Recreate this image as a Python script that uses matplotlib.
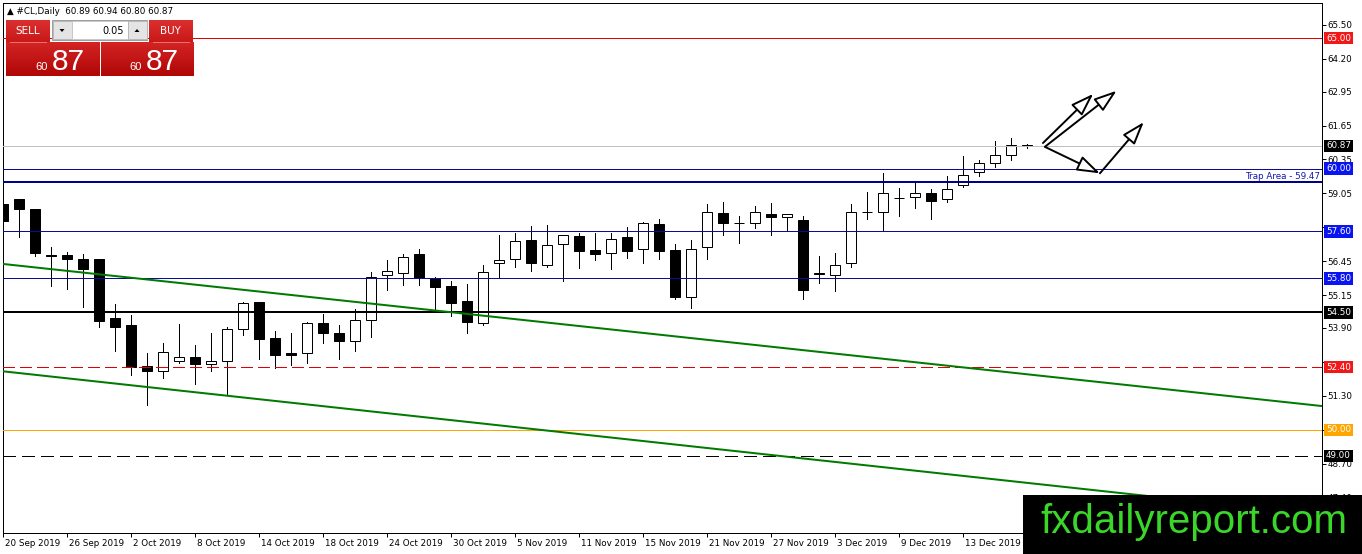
import matplotlib
matplotlib.use("Agg")
import matplotlib.pyplot as plt
import numpy as np
from matplotlib.patches import Rectangle, Polygon
from matplotlib.transforms import ScaledTranslation, blended_transform_factory
from matplotlib.colors import to_rgb

plt.rcParams['lines.scale_dashes'] = False
plt.rcParams['font.family'] = ['DejaVu Sans']

# ---------------- data ----------------
dates = ["20 Sep", "23 Sep", "24 Sep", "25 Sep", "26 Sep", "27 Sep", "30 Sep",
         "1 Oct", "2 Oct", "3 Oct", "4 Oct", "7 Oct", "8 Oct", "9 Oct", "10 Oct", "11 Oct",
         "14 Oct", "15 Oct", "16 Oct", "17 Oct", "18 Oct", "21 Oct", "22 Oct", "23 Oct",
         "24 Oct", "25 Oct", "28 Oct", "29 Oct", "30 Oct", "31 Oct",
         "1 Nov", "4 Nov", "5 Nov", "6 Nov", "7 Nov", "8 Nov", "11 Nov", "12 Nov", "13 Nov",
         "14 Nov", "15 Nov", "18 Nov", "19 Nov", "20 Nov", "21 Nov", "22 Nov", "25 Nov",
         "26 Nov", "27 Nov", "28 Nov", "29 Nov",
         "2 Dec", "3 Dec", "4 Dec", "5 Dec", "6 Dec", "9 Dec", "10 Dec", "11 Dec", "12 Dec",
         "13 Dec", "16 Dec", "17 Dec", "18 Dec", "19 Dec"]

opens = [58.65, 58.83, 58.44, 56.70, 56.68, 56.53, 56.53,
         54.28, 54.00, 52.44, 52.27, 52.65, 52.80, 52.52, 52.65, 53.85,
         54.89, 53.52, 52.95, 52.95, 54.08, 53.70, 53.39, 54.21,
         55.92, 56.02, 56.73, 55.81, 55.51, 54.94,
         54.10, 56.40, 56.53, 57.27, 56.32, 57.11, 57.42, 56.88, 56.76,
         57.37, 56.91, 57.88, 56.88, 55.10, 56.99, 58.29, 57.90,
         57.91, 58.26, 58.14, 58.03,
         55.97, 55.94, 56.40, 58.32, 58.34, 58.89, 58.90, 59.06, 58.85,
         59.36, 59.87, 60.23, 60.53, 60.89]
highs = [59.18, 58.85, 58.46, 57.01, 56.81, 56.73, 56.55,
         54.82, 54.41, 52.93, 53.31, 54.05, 53.26, 53.72, 53.95, 54.89,
         54.90, 53.80, 53.70, 54.13, 54.44, 54.00, 54.61, 56.04,
         56.50, 56.73, 56.91, 55.86, 55.69, 55.58,
         56.32, 57.45, 57.52, 57.80, 57.85, 57.46, 57.55, 57.52, 57.55,
         57.75, 57.96, 58.06, 57.11, 57.27, 58.65, 58.72, 58.20,
         58.57, 58.70, 58.27, 58.19,
         56.66, 56.76, 58.65, 59.11, 59.84, 59.26, 59.46, 59.23, 59.72,
         60.48, 60.33, 61.05, 61.17, 60.94]
lows = [57.77, 57.37, 56.65, 55.51, 55.40, 54.72, 53.95,
        53.03, 52.11, 50.96, 51.99, 52.55, 51.76, 52.27, 51.32, 53.62,
        52.72, 52.37, 52.50, 52.57, 53.31, 52.70, 53.03, 53.57,
        55.35, 55.56, 55.56, 54.61, 54.36, 53.70,
        54.03, 55.81, 56.25, 56.09, 56.25, 55.71, 56.20, 56.50, 56.17,
        56.58, 56.40, 56.53, 55.02, 54.67, 56.55, 57.47, 57.16,
        57.73, 57.47, 57.62, 55.00,
        55.61, 55.33, 56.25, 58.08, 57.65, 58.19, 58.49, 58.08, 58.72,
        59.29, 59.72, 60.05, 60.33, 60.80]
closes = [57.99, 58.47, 56.76, 56.65, 56.53, 56.15, 54.18,
          53.95, 52.42, 52.27, 52.98, 52.80, 52.52, 52.65, 53.87, 54.87,
          53.47, 52.88, 52.88, 54.08, 53.70, 53.41, 54.21, 55.86,
          56.07, 56.61, 55.81, 55.48, 54.84, 54.13,
          56.04, 56.50, 57.24, 56.38, 57.06, 57.45, 56.86, 56.73, 57.29,
          56.86, 57.93, 56.86, 55.07, 56.91, 58.34, 57.91, 57.92,
          58.34, 58.14, 58.26, 55.35,
          55.99, 56.30, 58.34, 58.34, 59.06, 58.87, 59.06, 58.77, 59.21,
          59.74, 60.20, 60.51, 60.89, 60.87]

x_tick_bars = [0, 4, 8, 12, 16, 20, 24, 28, 32, 36, 40, 44, 48, 52, 56, 60]
x_tick_labels = ["20 Sep 2019", "26 Sep 2019", "2 Oct 2019", "8 Oct 2019", "14 Oct 2019",
                 "18 Oct 2019", "24 Oct 2019", "30 Oct 2019", "5 Nov 2019", "11 Nov 2019",
                 "15 Nov 2019", "21 Nov 2019", "27 Nov 2019", "3 Dec 2019", "9 Dec 2019",
                 "13 Dec 2019"]
price_ticks = [65.50, 64.20, 62.95, 61.65, 60.35, 59.05, 57.75, 56.45, 55.15,
               53.90, 52.60, 51.30, 50.00, 48.70, 47.40]
# tick labels that sit fully behind a level box in the reference
hidden_price_ticks = [57.75, 52.60, 50.00]

# horizontal levels: value, line colour, width(px), style, label box colour
level_values = [65.00, 60.87, 60.00, 57.60, 55.80, 54.50, 52.40, 50.00, 49.00]
level_line_colors = ['#e00000', '#c0c0c0', '#0a0a9c', '#0a0a9c', '#0a0a9c',
                     '#000000', '#e00000', '#ffa500', '#000000']
level_line_widths = [1, 1, 1, 1, 1, 2, 1, 1, 1]
level_line_styles = ['solid', 'solid', 'solid', 'solid', 'solid', 'solid',
                     'dashed', 'solid', 'dashed']
level_box_colors = ['#f01818', '#000000', '#0a14f0', '#0a14f0', '#0a14f0',
                    '#000000', '#f01818', '#ffa500', '#000000']
trap_level = 59.47
trap_text = "Trap Area - 59.47"

# trend channel (bar index, price)
upper_trend_x = [0, 82.44]
upper_trend_y = [56.35, 50.91]
lower_trend_x = [0, 82.44]
lower_trend_y = [52.24, 46.74]

# projection arrows (bar index, price)
arrow_start_x = [65.0, 65.13, 65.13, 68.56]
arrow_start_y = [60.98, 60.84, 60.83, 59.82]
arrow_end_x = [68.14, 69.6, 68.56, 71.3]
arrow_end_y = [62.86, 62.98, 59.82, 61.78]

header_text = "\u25B2 #CL,Daily  60.89 60.94 60.80 60.87"
quote_big = "87"
quote_small = "60"
lot_text = "0.05"
watermark = "fxdailyreport.com"

# ---------------- figure ----------------
W, H, DPI = 1362, 554, 100
fig = plt.figure(figsize=(W / DPI, H / DPI), dpi=DPI, facecolor='white')

PL, PR, PT, PB = 3, 1322, 3, 533
ax = fig.add_axes([PL / W, 1 - PB / H, (PR - PL) / W, (PB - PT) / H])
ax.set_facecolor('white')
ax.set_xlim(0, 82.44)
ax.set_ylim(46.05, 66.34)

px = 0.72  # one pixel in points

# candles
x = np.arange(len(opens))
o = np.array(opens); c = np.array(closes)
h = np.array(highs); l = np.array(lows)
up = c >= o
ax.vlines(x, l, h, color='black', linewidth=px, zorder=2, antialiased=False)
body_bottom = np.minimum(o, c)
body_height = np.abs(c - o)
ax.bar(x[up], body_height[up], bottom=body_bottom[up], width=0.62,
       color='white', edgecolor='black', linewidth=px, zorder=3)
ax.bar(x[~up], body_height[~up], bottom=body_bottom[~up], width=0.62,
       color='black', edgecolor='black', linewidth=px, zorder=3)

# level lines
for v, lc, lw, ls in zip(level_values, level_line_colors, level_line_widths, level_line_styles):
    if ls == 'dashed':
        dash = (0, (8.6, 3.8)) if lc != '#000000' else (0, (9.0, 5.0))
        ax.axhline(v, color=lc, linewidth=lw * px, linestyle=dash, zorder=4,
                   antialiased=False)
    else:
        ax.axhline(v, color=lc, linewidth=lw * px, zorder=4, antialiased=False)
ax.axhline(trap_level, color='#00008b', linewidth=2 * px, zorder=4, antialiased=False)

# trend lines
ax.plot(upper_trend_x, upper_trend_y, color='#007a00', linewidth=2 * px, zorder=4,
        solid_capstyle='butt')
ax.plot(lower_trend_x, lower_trend_y, color='#007a00', linewidth=2 * px, zorder=4,
        solid_capstyle='butt')

# arrows
for sx, sy, ex, ey in zip(arrow_start_x, arrow_start_y, arrow_end_x, arrow_end_y):
    ax.annotate('', xy=(ex, ey), xytext=(sx, sy), xycoords='data', textcoords='data',
                arrowprops=dict(arrowstyle='-|>,head_length=1.0,head_width=0.34',
                                fc='white', ec='black', lw=1.4, mutation_scale=14,
                                shrinkA=0, shrinkB=0),
                zorder=5, annotation_clip=False)

# axes styling
for s in ax.spines.values():
    s.set_color('black')
    s.set_linewidth(px)
ax.yaxis.tick_right()
ax.set_yticks(price_ticks)
ax.set_yticklabels(["" if v in hidden_price_ticks else f"{v:.2f}" for v in price_ticks])
ax.tick_params(axis='y', direction='out', length=2.9, width=px, pad=1.2,
               labelsize=6.3, colors='black')
ax.set_xticks(x_tick_bars)
ax.set_xticklabels(x_tick_labels, ha='left')
ax.tick_params(axis='x', direction='out', length=2.9, width=px, pad=1.6,
               labelsize=6.3, colors='black')
shift = ScaledTranslation(2.0 / DPI, 0, fig.dpi_scale_trans)
for lab in ax.get_xticklabels():
    lab.set_transform(lab.get_transform() + shift)

# level label boxes on the price axis
blend = blended_transform_factory(ax.transAxes, ax.transData)
for v, bc in zip(level_values, level_box_colors):
    ax.annotate(f"{v:.2f}", xy=(1.0, v), xycoords=blend, xytext=(2.9, 0),
                textcoords='offset points', ha='left', va='center', color='white',
                fontsize=6.3, annotation_clip=False, zorder=8,
                bbox=dict(boxstyle='square,pad=0.2', fc=bc, ec='none'))

ax.annotate(trap_text, xy=(1.0, trap_level), xycoords=blend, xytext=(-1.5, 1.2),
            textcoords='offset points', ha='right', va='bottom', color='#1515b5',
            fontsize=6.3, annotation_clip=False, zorder=8)

# ---------------- overlays in pixel coordinates ----------------
def frect(x0, y0, w, hgt):
    return (x0 / W, 1 - (y0 + hgt) / H), w / W, hgt / H

def grad_box(x0, y0, w, hgt, ctop, cbot):
    a = fig.add_axes([x0 / W, 1 - (y0 + hgt) / H, w / W, hgt / H])
    t = np.linspace(0, 1, 64)[:, None, None]
    g = np.array(to_rgb(ctop))[None, None, :] * (1 - t) + np.array(to_rgb(cbot))[None, None, :] * t
    a.imshow(g, aspect='auto', extent=[0, 1, 0, 1], interpolation='bilinear')
    a.set_axis_off()
    return a

def ftext(x0, y0, s, **kw):
    fig.text(x0 / W, 1 - y0 / H, s, zorder=20, **kw)

ftext(7, 11, header_text, fontsize=6.3, color='black', ha='left', va='center',
      family=['DejaVu Sans'])

# trade widget
grad_box(6, 20, 44, 22, '#dc3030', '#c81818')
grad_box(149, 20, 44, 22, '#dc3030', '#c81818')
grad_box(6, 42, 93, 34, '#d42424', '#b00606')
grad_box(101, 42, 92, 34, '#d42424', '#b00606')
for (xy, w, hg), fc, ec in [
        (frect(52, 20, 95, 20), '#f0f0f0', '#a0a0a0'),
        (frect(53, 21, 19, 18), '#e4e4e4', '#b8b8b8'),
        (frect(72, 21, 56, 18), '#ffffff', '#c8c8c8'),
        (frect(128, 21, 19, 18), '#e4e4e4', '#b8b8b8')]:
    fig.add_artist(Rectangle(xy, w, hg, transform=fig.transFigure, fc=fc, ec=ec,
                             lw=px, zorder=15))
fig.add_artist(Polygon([(59.5 / W, 1 - 29 / H), (64.5 / W, 1 - 29 / H), (62 / W, 1 - 32 / H)],
                       closed=True, transform=fig.transFigure, fc='black', ec='none', zorder=16))
fig.add_artist(Polygon([(134.5 / W, 1 - 32 / H), (139.5 / W, 1 - 32 / H), (137 / W, 1 - 29 / H)],
                       closed=True, transform=fig.transFigure, fc='black', ec='none', zorder=16))
fig.add_artist(Rectangle((10 / W, 1 - 42.5 / H), 37 / W, 0.8 / H, transform=fig.transFigure,
                         fc='#e87070', ec='none', zorder=16))
fig.add_artist(Rectangle((153 / W, 1 - 42.5 / H), 37 / W, 0.8 / H, transform=fig.transFigure,
                         fc='#e87070', ec='none', zorder=16))
ftext(27.5, 31, "SELL", fontsize=7.5, color='white', ha='center', va='center')
ftext(170.5, 31, "BUY", fontsize=7.5, color='white', ha='center', va='center')
ftext(124, 30.5, lot_text, fontsize=7, color='black', ha='right', va='center')
ftext(35, 70.5, quote_small, fontsize=8, color='white', ha='left', va='baseline',
      family=['Liberation Sans'])
ftext(52, 70.5, quote_big, fontsize=21.5, color='white', ha='left', va='baseline',
      family=['Liberation Sans'])
ftext(129, 70.5, quote_small, fontsize=8, color='white', ha='left', va='baseline',
      family=['Liberation Sans'])
ftext(146, 70.5, quote_big, fontsize=21.5, color='white', ha='left', va='baseline',
      family=['Liberation Sans'])

# watermark
(wxy, ww, wh) = frect(1022.5, 495, W - 1022.5, H - 495)
fig.add_artist(Rectangle(wxy, ww, wh, transform=fig.transFigure, fc='black', ec='none',
                         zorder=18))
ftext(1040, 533, watermark, fontsize=29, color='#3ad62a', ha='left', va='baseline',
      family=['Liberation Sans'])

fig.savefig('out.png', dpi=DPI, facecolor='white')
